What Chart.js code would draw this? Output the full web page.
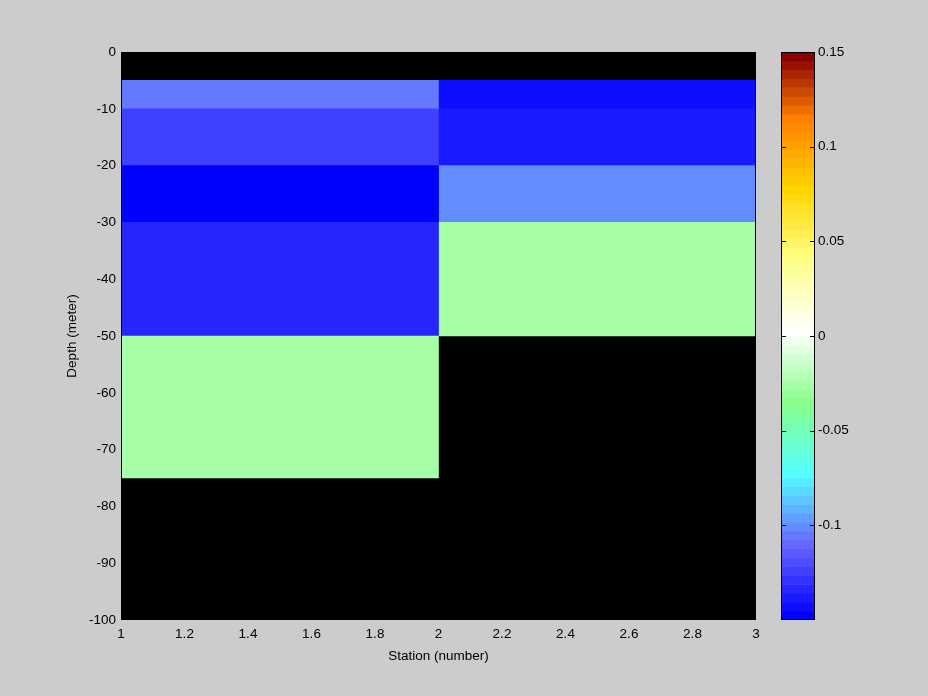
<!DOCTYPE html>
<html>
<head>
<meta charset="utf-8">
<title>Depth section</title>
<script src="https://cdn.jsdelivr.net/npm/chart.js@4.4.1/dist/chart.umd.min.js"></script>
<style>
  html, body { margin: 0; padding: 0; background: #cccccc; }
  .wrap { position: relative; width: 928px; height: 696px; }
  #section { position: absolute; left: 0; top: 0; }
  #colorbar { position: absolute; left: 756px; top: 0; }
</style>
</head>
<body>
<div class="wrap">
  <canvas id="section" width="928" height="696"></canvas>
  <canvas id="colorbar" width="172" height="696"></canvas>
</div>
<script>
/** *********************DATA***************************** */
const stationEdges = [1, 2, 3];
const depthEdges = [0, -5, -10, -20, -30, -50, -75, -100];
// value of each depth layer, top to bottom (null = no data)
const station1 = [null, -0.105, -0.124, -0.148, -0.134, -0.026, null];
const station2 = [null, -0.143, -0.138, -0.101, -0.026, null, null];
const stationTicks = [1, 1.2, 1.4, 1.6, 1.8, 2, 2.2, 2.4, 2.6, 2.8, 3];
const depthTicks = [0, -10, -20, -30, -40, -50, -60, -70, -80, -90, -100];
const colorTicks = [-0.1, -0.05, 0, 0.05, 0.1, 0.15];
const colorRange = [-0.15, 0.15];

/** *********************COLORMAP***************************** */
const COLOR_LEVELS = 64;
const colormapStops = [
  [0, [0, 0, 255]],
  [8, [102, 102, 255]],
  [16, [85, 255, 255]],
  [24, [136, 255, 136]],
  [32, [255, 255, 255]],
  [40, [255, 255, 136]],
  [48, [255, 213, 0]],
  [56, [255, 128, 0]],
  [63, [136, 0, 0]],
];

function levelColor(k) {
  let i = 0;
  while (i < colormapStops.length - 2 && k > colormapStops[i + 1][0]) i += 1;
  const [k0, c0] = colormapStops[i];
  const [k1, c1] = colormapStops[i + 1];
  const t = (k - k0) / (k1 - k0);
  const rgb = c0.map((c, n) => Math.round(c + (c1[n] - c) * t));
  return `rgb(${rgb[0]}, ${rgb[1]}, ${rgb[2]})`;
}

function valueColor(v) {
  const span = colorRange[1] - colorRange[0];
  const k = Math.floor(((v - colorRange[0]) / span) * COLOR_LEVELS);
  return levelColor(Math.min(COLOR_LEVELS - 1, Math.max(0, k)));
}

const font = { family: '"Liberation Sans", Arial, sans-serif', size: 13.5 };

// cells of one station column as floating bars
function stationCells(values, i) {
  const cells = [];
  values.forEach((v, j) => {
    if (v === null) return;
    cells.push({
      x: (stationEdges[i] + stationEdges[i + 1]) / 2,
      y: [depthEdges[j + 1], depthEdges[j]],
      v,
    });
  });
  return cells;
}

function cellDataset(values, i) {
  const cells = stationCells(values, i);
  return {
    data: cells,
    backgroundColor: cells.map((c) => valueColor(c.v)),
    borderWidth: 0,
    grouped: false,
    barPercentage: 1,
    categoryPercentage: 1,
    xAxisID: 'xCells',
    yAxisID: 'y',
  };
}

// black field behind the cells
const plotBackground = {
  id: 'plotBackground',
  beforeDatasetsDraw(chart) {
    const { ctx, chartArea: { left, top, width, height } } = chart;
    ctx.save();
    ctx.fillStyle = '#000000';
    ctx.fillRect(left, top, width, height);
    ctx.restore();
  },
};

// frame round the plot area
const chartAreaBorder = {
  id: 'chartAreaBorder',
  afterDatasetsDraw(chart) {
    const { ctx, chartArea: { left, top, width, height } } = chart;
    ctx.save();
    ctx.strokeStyle = '#000000';
    ctx.lineWidth = 1;
    ctx.strokeRect(left + 0.5, top + 0.5, width - 1, height - 1);
    ctx.restore();
  },
};

/** *********************SECTION***************************** */
new Chart(document.getElementById('section'), {
  type: 'bar',
  data: {
    datasets: [cellDataset(station1, 0), cellDataset(station2, 1)],
  },
  options: {
    responsive: false,
    animation: false,
    events: [],
    layout: { padding: { top: 52, right: 172, bottom: 0, left: 0 } },
    plugins: { legend: { display: false }, tooltip: { enabled: false } },
    scales: {
      x: {
        type: 'linear',
        min: 1,
        max: 3,
        offset: false,
        afterBuildTicks: (scale) => { scale.ticks = stationTicks.map((value) => ({ value })); },
        afterFit: (scale) => { scale.height = 76; },
        grid: { display: false, drawTicks: false },
        border: { display: false },
        ticks: {
          color: '#000000', font, padding: 6, autoSkip: false, maxRotation: 0,
          callback: (v) => String(v),
        },
        title: {
          display: true, text: 'Station (number)', color: '#000000', font,
          padding: { top: 0, bottom: 32 },
        },
      },
      xCells: {
        type: 'linear',
        display: false,
        min: 1,
        max: 3,
        offset: false,
        ticks: { stepSize: 1 },
      },
      y: {
        type: 'linear',
        min: -100,
        max: 0,
        afterBuildTicks: (scale) => { scale.ticks = depthTicks.map((value) => ({ value })); },
        afterFit: (scale) => { scale.width = 121; },
        grid: { display: false, drawTicks: false },
        border: { display: false },
        ticks: { color: '#000000', font, padding: 5, callback: (v) => String(v) },
        title: {
          display: true, text: 'Depth (meter)', color: '#000000', font,
          padding: { top: 64, bottom: 0 },
        },
      },
    },
  },
  plugins: [plotBackground, chartAreaBorder],
});

/** *********************COLORBAR***************************** */
const levelIndex = Array.from({ length: COLOR_LEVELS }, (_, k) => k);
const levelStep = (colorRange[1] - colorRange[0]) / COLOR_LEVELS;

// frame and inward tick marks of the colorbar
const colorbarFrame = {
  id: 'colorbarFrame',
  afterDatasetsDraw(chart) {
    const { ctx, chartArea: { left, right, top, width, height } } = chart;
    const yScale = chart.scales.y;
    ctx.save();
    ctx.strokeStyle = '#000000';
    ctx.lineWidth = 1;
    ctx.strokeRect(left + 0.5, top + 0.5, width - 1, height - 1);
    ctx.beginPath();
    colorTicks.forEach((t) => {
      const py = Math.round(yScale.getPixelForValue(t)) + 0.5;
      ctx.moveTo(left, py);
      ctx.lineTo(left + 5, py);
      ctx.moveTo(right - 5, py);
      ctx.lineTo(right, py);
    });
    ctx.stroke();
    ctx.restore();
  },
};

new Chart(document.getElementById('colorbar'), {
  type: 'bar',
  data: {
    labels: ['bar'],
    datasets: [{
      data: levelIndex.map((k) => ({
        x: 'bar',
        y: [colorRange[0] + k * levelStep, colorRange[0] + (k + 1) * levelStep],
      })),
      backgroundColor: levelIndex.map((k) => levelColor(k)),
      borderWidth: 0,
      barPercentage: 1,
      categoryPercentage: 1,
    }],
  },
  options: {
    responsive: false,
    animation: false,
    events: [],
    layout: { padding: { top: 52, right: 0, bottom: 76, left: 25 } },
    plugins: { legend: { display: false }, tooltip: { enabled: false } },
    scales: {
      x: { display: false },
      y: {
        position: 'right',
        min: colorRange[0],
        max: colorRange[1],
        afterBuildTicks: (scale) => { scale.ticks = colorTicks.map((value) => ({ value })); },
        afterFit: (scale) => { scale.width = 113; },
        grid: { display: false, drawTicks: false },
        border: { display: false },
        ticks: { color: '#000000', font, padding: 3, callback: (v) => String(v) },
      },
    },
  },
  plugins: [colorbarFrame],
});
</script>
</body>
</html>
